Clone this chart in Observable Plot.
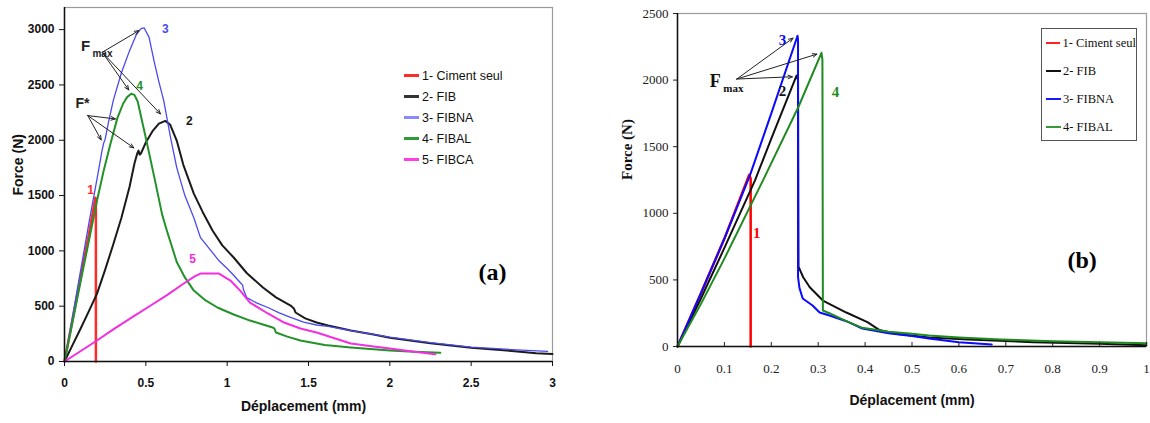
<!DOCTYPE html>
<html><head><meta charset="utf-8">
<script src="https://cdn.jsdelivr.net/npm/d3@7"></script>
<script src="https://cdn.jsdelivr.net/npm/@observablehq/plot@0.6"></script>
<style>
body{margin:0;background:#fff;}
#wrap{position:relative;width:1150px;height:423px;overflow:hidden;background:#fff;}
#pa{position:absolute;left:0;top:0;}
#pb{position:absolute;left:610px;top:0;}
#lega{position:absolute;left:404px;top:65px;font-family:"Liberation Sans",Arial,sans-serif;font-size:12.5px;color:#111;}
#lega .row{height:21px;display:flex;align-items:center;}
#lega .sw{width:15px;height:2.5px;margin-right:3px;}
#legb{position:absolute;left:1041px;top:28px;width:94px;height:111px;border:1.5px solid #555;box-sizing:content-box;font-family:"Liberation Serif","Times New Roman",serif;font-size:12.5px;color:#111;}
#legb .row{height:28px;display:flex;align-items:center;padding-left:4px;white-space:nowrap;}
#legb .sw{width:15px;height:2.5px;margin-right:2px;}
</style></head><body>
<div id="wrap"><div id="pa"></div><div id="pb"></div><div id="lega"></div><div id="legb"></div></div>
<script>
// ---------- Panel (a) data ----------
const seriesA = ["1- Ciment seul", "2- FIB", "3- FIBNA", "4- FIBAL", "5- FIBCA"];
const colorsA = ["#ff2a2a", "#1a1a1a", "#4a4af0", "#23922a", "#f22ee0"];
const legendColorsA = ["#ff2a2a", "#333333", "#8a8aff", "#2e9a34", "#ff3ee8"];
const widthsA = [2.5, 2, 1.3, 2, 2];
const a1_ciment = [[0,0],[0.05,385],[0.1,770],[0.15,1150],[0.19,1480],[0.193,1470],[0.193,0]];
const a2_fib = [[0,0],[0.05,150],[0.1,300],[0.15,455],[0.2,614],[0.25,830],[0.3,1060],[0.35,1300],[0.4,1580],[0.43,1790],[0.447,1880],[0.455,1906],[0.462,1870],[0.47,1880],[0.5,1980],[0.54,2080],[0.58,2150],[0.62,2175],[0.65,2140],[0.69,1997],[0.73,1780],[0.795,1518],[0.85,1350],[0.91,1184],[0.97,1050],[1.04,940],[1.12,800],[1.22,669],[1.3,580],[1.39,506],[1.41,480],[1.42,443],[1.48,390],[1.55,352],[1.62,325],[1.76,280],[1.9,245],[2.0,215],[2.25,165],[2.5,125],[2.75,95],[2.9,75],[3.0,68]];
const a3_fibna = [[0,0],[0.05,410],[0.1,830],[0.15,1250],[0.2,1650],[0.23,1900],[0.24,1970],[0.25,2010],[0.27,2160],[0.3,2360],[0.35,2610],[0.4,2810],[0.44,2950],[0.47,3010],[0.49,3015],[0.52,2930],[0.55,2720],[0.58,2530],[0.61,2358],[0.65,2040],[0.69,1753],[0.74,1500],[0.795,1300],[0.836,1120],[0.9,1003],[0.95,910],[1.0,840],[1.04,780],[1.08,714],[1.095,690],[1.1,650],[1.12,578],[1.18,530],[1.25,488],[1.32,440],[1.39,398],[1.47,355],[1.55,330],[1.62,318],[1.76,280],[1.9,245],[2.0,220],[2.25,170],[2.5,130],[2.75,108],[2.97,92]];
const a4_fibal = [[0,0],[0.05,360],[0.1,730],[0.15,1090],[0.2,1455],[0.24,1720],[0.283,1970],[0.325,2200],[0.36,2330],[0.385,2390],[0.41,2420],[0.43,2410],[0.45,2350],[0.5,2020],[0.55,1680],[0.6,1330],[0.63,1180],[0.69,900],[0.74,760],[0.795,641],[0.86,560],[0.94,488],[1.04,425],[1.14,370],[1.22,335],[1.28,307],[1.29,300],[1.3,262],[1.37,225],[1.45,190],[1.6,150],[1.76,127],[2.0,100],[2.15,88],[2.31,78]];
const a5_fibca = [[0,0],[0.1,95],[0.2,190],[0.3,290],[0.4,385],[0.53,506],[0.63,600],[0.733,705],[0.8,770],[0.836,795],[0.95,795],[1.02,732],[1.08,641],[1.14,533],[1.25,434],[1.35,352],[1.45,298],[1.55,262],[1.65,215],[1.76,163],[1.9,135],[2.0,117],[2.15,88],[2.28,65]];
const curvesA = [a1_ciment, a2_fib, a3_fibna, a4_fibal, a5_fibca];
const xTicksA = [0, 0.5, 1, 1.5, 2, 2.5, 3];
const yTicksA = [0, 500, 1000, 1500, 2000, 2500, 3000];
const curveLabelA = ["1", "2", "3", "4", "5"];
const curveLabelXA = [0.16, 0.768, 0.62, 0.461, 0.787];
const curveLabelYA = [1545, 2169, 3000, 2485, 922];
// annotation arrows (a): [x1, y1, x2, y2]
const fmaxArrowsA = [[0.232,2795,0.457,2991],[0.232,2795,0.395,2455],[0.232,2795,0.59,2238]];
const fstarArrowsA = [[0.143,2223,0.313,2193],[0.143,2223,0.2255,2003],[0.143,2223,0.426,1931]];
const fmaxTextA = {x: 0.129, y: 2846, subX: 0.172, subY: 2783};
const fstarTextA = {x: 0.11, y: 2331};

// ---------- Panel (b) data ----------
const seriesB = ["1- Ciment seul", "2- FIB", "3- FIBNA", "4- FIBAL"];
const colorsB = ["#ff0000", "#111111", "#0a0aff", "#1f8a1f"];
const legendColorsB = ["#ff2020", "#111111", "#1a1aff", "#3a9a3a"];
const b1_ciment = [[0,0],[0.05,400],[0.1,810],[0.153,1290],[0.156,1260],[0.156,0]];
const b2_fib = [[0,0],[0.05,360],[0.1,740],[0.165,1245],[0.2,1560],[0.254,2035],[0.257,2000],[0.258,600],[0.268,520],[0.282,445],[0.31,345],[0.36,255],[0.405,183],[0.43,125],[0.465,95],[0.536,68],[0.62,52],[0.76,32],[0.9,20],[1.0,10]];
const b3_fibna = [[0,0],[0.05,400],[0.1,810],[0.155,1290],[0.2,1750],[0.256,2333],[0.257,2300],[0.257,520],[0.26,440],[0.267,360],[0.288,308],[0.303,255],[0.324,233],[0.36,190],[0.394,135],[0.45,100],[0.5,78],[0.536,60],[0.6,32],[0.67,15]];
const b4_fibal = [[0,0],[0.05,320],[0.1,660],[0.182,1245],[0.258,1800],[0.307,2205],[0.309,2150],[0.31,270],[0.325,248],[0.36,190],[0.394,140],[0.45,110],[0.5,95],[0.536,82],[0.6,68],[0.69,52],[0.8,40],[0.9,32],[1.0,24]];
const curvesB = [b1_ciment, b2_fib, b3_fibna, b4_fibal];
const xTicksB = [0, 0.1, 0.2, 0.3, 0.4, 0.5, 0.6, 0.7, 0.8, 0.9, 1];
const yTicksB = [0, 500, 1000, 1500, 2000, 2500];
const curveLabelB = ["1", "2", "3", "4"];
const curveLabelXB = [0.169, 0.224, 0.224, 0.337];
const curveLabelYB = [850, 1915, 2300, 1907];
const fmaxArrowsB = [[0.1264,2008,0.2464,2315],[0.1264,2008,0.2973,2195],[0.1264,2008,0.245,2025]];
const fmaxTextB = {x: 0.0805, y: 1995, subX: 0.0975, subY: 1935};

// ---------- build tables ----------
const toRows = (curves, names) => curves.flatMap((c, i) => c.map(([x, y]) => ({x, y, s: names[i], i})));
const rowsA = toRows(curvesA, seriesA);
const rowsB = toRows(curvesB, seriesB);
const labA = curveLabelA.map((t, i) => ({t, x: curveLabelXA[i], y: curveLabelYA[i], c: colorsA[i]}));
const labB = curveLabelB.map((t, i) => ({t, x: curveLabelXB[i], y: curveLabelYB[i], c: colorsB[i]}));
const arr = a => a.map(([x1, y1, x2, y2]) => ({x1, y1, x2, y2}));

// ---------- Panel (a) ----------
const WA = 600, HA = 423;
const plotA = Plot.plot({
  width: WA, height: HA,
  marginLeft: 64, marginRight: 48, marginTop: 7, marginBottom: 62,
  x: {domain: [0, 3]},
  y: {domain: [0, 3200]},
  style: {fontFamily: "'Liberation Sans', Arial, sans-serif", fontWeight: "bold", fontSize: "12px", color: "#111", background: "transparent", overflow: "visible"},
  marks: [
    Plot.frame({stroke: "#9a9a9a", strokeWidth: 1.2}),
    ...curvesA.map((c, i) => Plot.line(rowsA.filter(d => d.i === i), {x: "x", y: "y", stroke: colorsA[i], strokeWidth: widthsA[i]})),
    Plot.ruleX([0], {stroke: "#111", strokeWidth: 1.5}),
    Plot.ruleY([0], {stroke: "#111", strokeWidth: 1.5}),
    Plot.axisX(xTicksA, {tickSize: 5, tickPadding: 12, tickFormat: d => String(d), label: null, fontSize: 12, fontWeight: "bold"}),
    Plot.axisY(yTicksA, {tickSize: 5, tickPadding: 5, tickFormat: d => String(d), label: null, fontSize: 12, fontWeight: "bold"}),
    Plot.text(labA, {x: "x", y: "y", text: "t", fill: "c", fontSize: 12, fontWeight: "bold"}),
    Plot.arrow(arr(fmaxArrowsA), {x1: "x1", y1: "y1", x2: "x2", y2: "y2", stroke: "#222", strokeWidth: 1, headLength: 7, headAngle: 45}),
    Plot.arrow(arr(fstarArrowsA), {x1: "x1", y1: "y1", x2: "x2", y2: "y2", stroke: "#222", strokeWidth: 1, headLength: 7, headAngle: 45}),
    Plot.text([fmaxTextA], {x: "x", y: "y", text: () => "F", fontSize: 15, fontWeight: "bold", fill: "#222"}),
    Plot.text([fmaxTextA], {x: "subX", y: "subY", text: () => "max", textAnchor: "start", fontSize: 10, fontWeight: "bold", fill: "#222"}),
    Plot.text([fstarTextA], {x: "x", y: "y", text: () => "F*", fontSize: 14, fontWeight: "bold", fill: "#222"}),
    Plot.text(["Force (N)"], {text: d => d, frameAnchor: "left", dx: -46, dy: 11, rotate: -90, fontSize: 14, fontWeight: "bold", fill: "#111"}),
    Plot.text(["Déplacement (mm)"], {text: d => d, frameAnchor: "bottom", dx: -5, dy: 49, fontSize: 14, fontWeight: "bold", fill: "#111"}),
    Plot.text(["(a)"], {text: d => d, frameAnchor: "top-left", dx: 414, dy: 255, fontFamily: "'Liberation Serif', 'Times New Roman', serif", fontSize: 24, fontWeight: "bold", fill: "#000"})
  ]
});
document.getElementById("pa").appendChild(plotA);

// ---------- Panel (b) ----------
const WB = 540, HB = 423, mtB = 13, mbB = 77;
const plotB = Plot.plot({
  width: WB, height: HB,
  marginLeft: 67, marginRight: 4, marginTop: mtB, marginBottom: mbB,
  x: {domain: [0, 1]},
  y: {domain: [0, 2500]},
  style: {fontFamily: "'Liberation Serif', 'Times New Roman', serif", fontSize: "13px", color: "#222", background: "transparent", overflow: "visible"},
  marks: [
    Plot.frame({stroke: "#9a9a9a", strokeWidth: 1.2}),
    ...curvesB.map((c, i) => Plot.line(rowsB.filter(d => d.i === i), {x: "x", y: "y", stroke: colorsB[i], strokeWidth: i === 0 ? 2.5 : 2})),
    Plot.ruleX([0], {stroke: "#111", strokeWidth: 1.5}),
    Plot.ruleY([0], {stroke: "#111", strokeWidth: 1.5}),
    Plot.ruleX(xTicksB, {x: d => d, stroke: "#222", insetTop: HB - mtB - mbB - 4}),
    Plot.axisX(xTicksB, {tickSize: 0, tickPadding: 17, tickFormat: d => String(d), label: null, fontSize: 13}),
    Plot.axisY(yTicksB, {tickSize: 4, tickPadding: 5, tickFormat: d => String(d), label: null, fontSize: 13}),
    Plot.text(labB, {x: "x", y: "y", text: "t", fill: "c", fontSize: 15, fontWeight: "bold"}),
    Plot.arrow(arr(fmaxArrowsB), {x1: "x1", y1: "y1", x2: "x2", y2: "y2", stroke: "#222", strokeWidth: 1, headLength: 7, headAngle: 45}),
    Plot.text([fmaxTextB], {x: "x", y: "y", text: () => "F", fontSize: 18, fontWeight: "bold", fill: "#111"}),
    Plot.text([fmaxTextB], {x: "subX", y: "subY", text: () => "max", textAnchor: "start", fontSize: 11, fontWeight: "bold", fill: "#111"}),
    Plot.text(["Force (N)"], {text: d => d, frameAnchor: "left", dx: -50, dy: 0, rotate: -90, fontSize: 15, fontWeight: "bold", fill: "#111"}),
    Plot.text(["Déplacement (mm)"], {text: d => d, frameAnchor: "bottom", dx: 0, dy: 58, fontFamily: "'Liberation Sans', Arial, sans-serif", fontSize: 14, fontWeight: "bold", fill: "#111"}),
    Plot.text(["(b)"], {text: d => d, frameAnchor: "top-left", dx: 390, dy: 237, fontSize: 24, fontWeight: "bold", fill: "#000"})
  ]
});
document.getElementById("pb").appendChild(plotB);

// ---------- Legends ----------
const legA = document.getElementById("lega");
seriesA.forEach((s, i) => {
  const r = document.createElement("div"); r.className = "row";
  r.innerHTML = `<span class="sw" style="background:${legendColorsA[i]}"></span><span>${s}</span>`;
  legA.appendChild(r);
});
const legB = document.getElementById("legb");
seriesB.forEach((s, i) => {
  const r = document.createElement("div"); r.className = "row";
  r.innerHTML = `<span class="sw" style="background:${legendColorsB[i]}"></span><span>${s}</span>`;
  legB.appendChild(r);
});
</script>
</body></html>
